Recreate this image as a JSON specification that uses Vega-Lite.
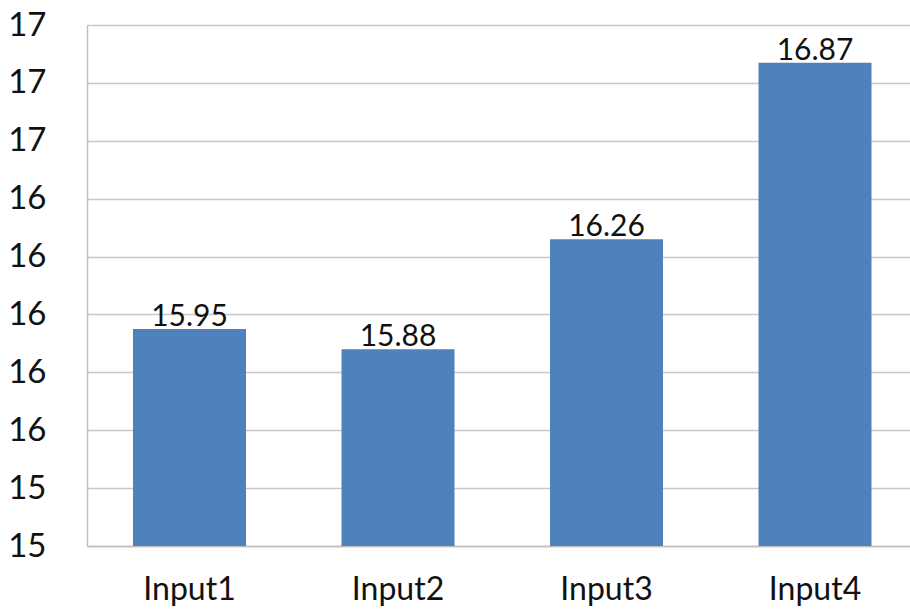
{
  "$schema": "https://vega.github.io/schema/vega-lite/v6.json",
  "autosize": "none",
  "width": 823,
  "height": 521,
  "padding": {"left": 87, "top": 25, "right": 0, "bottom": 63},
  "background": "white",
  "config": {"view": {"stroke": null}, "font": "Lato"},
  "data": {"values": [
    {"input": "Input1", "value": 15.95},
    {"input": "Input2", "value": 15.88},
    {"input": "Input3", "value": 16.26},
    {"input": "Input4", "value": 16.87}
  ]},
  "encoding": {
    "x": {"field": "input", "type": "nominal", "sort": null,
      "scale": {"paddingInner": 0.458, "paddingOuter": 0.2026, "align": 0.5444, "round": false},
      "axis": {"title": null, "labelAngle": 0, "labelFont": "Lato", "labelFontSize": 32, "labelColor": "#111111", "labelPadding": 28, "ticks": false, "domainColor": "#bfbfbf", "domainWidth": 1.5, "grid": false}},
    "y": {"field": "value", "type": "quantitative",
      "scale": {"domain": [15.2, 17.0], "zero": false, "nice": false},
      "axis": {"title": null, "values": [15.2, 15.4, 15.6, 15.8, 16.0, 16.2, 16.4, 16.6, 16.8, 17.0], "format": ".0f", "labelFont": "Lato", "labelFontSize": 33, "labelColor": "#111111", "labelPadding": 41, "ticks": false, "domainColor": "#bfbfbf", "domainWidth": 1.5, "gridColor": "#c8c8c8", "gridWidth": 1.5, "labelBaseline": "middle"}}
  },
  "layer": [
    {"mark": {"type": "bar", "color": "#4F81BD", "clip": true}},
    {"mark": {"type": "text", "baseline": "alphabetic", "dy": -3, "fontSize": 30, "font": "Lato", "color": "#111111"},
     "encoding": {"text": {"field": "value", "type": "quantitative", "format": ".2f"}}}
  ]
}
